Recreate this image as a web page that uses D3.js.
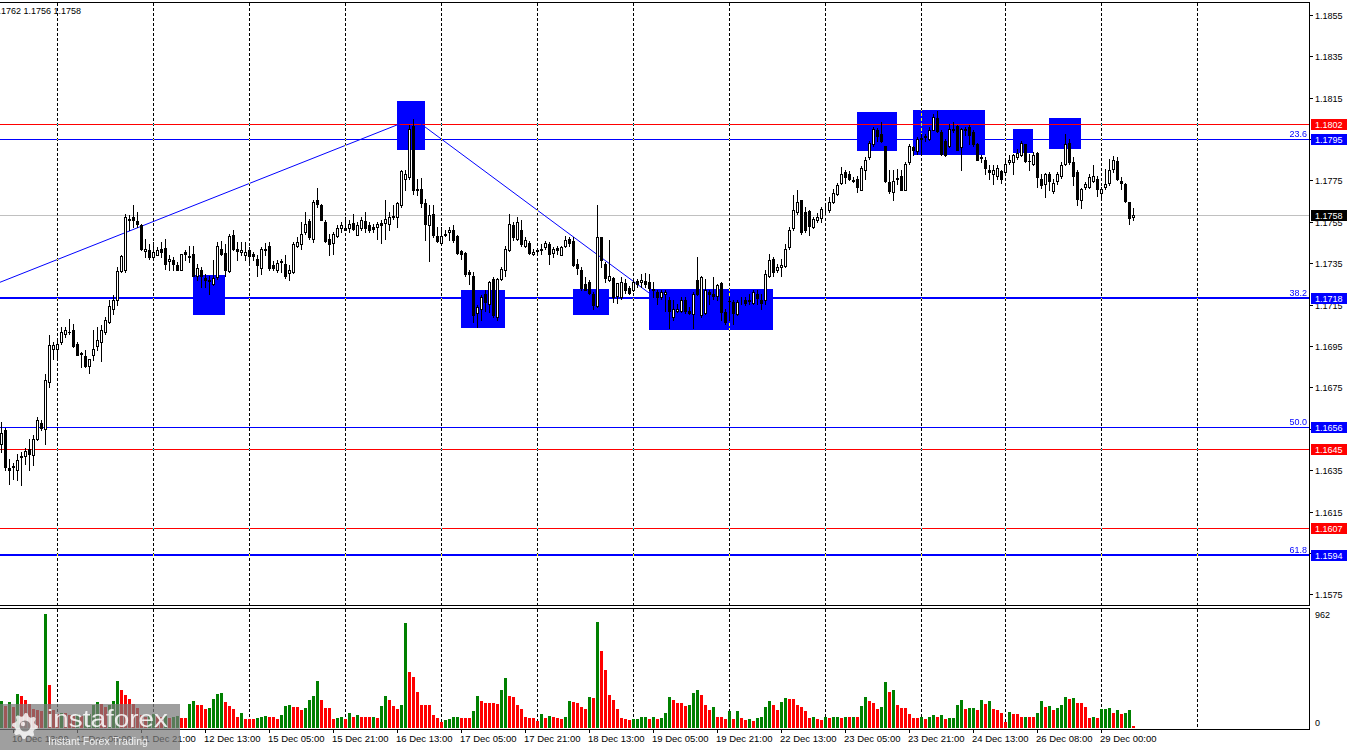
<!DOCTYPE html>
<html><head><meta charset="utf-8">
<script src="https://cdn.jsdelivr.net/npm/d3@7"></script>
<style>
html,body{margin:0;padding:0;background:#fff;overflow:hidden}
svg{display:block}
text{font-family:"Liberation Sans",Arial,sans-serif}
</style></head><body>
<svg id="chart" width="1350" height="750"></svg>
<script>
// ---------- DATA ----------
const header = "EURUSD,H1  1.1758 1.1762 1.1756 1.1758";
// hourly bars: [open, high, low, close]
const bars = [
[1.16477,1.16582,1.16437,1.16531],[1.16542,1.16555,1.16349,1.16365],[1.16361,1.16405,1.16284,1.16352],[1.16365,1.16384,1.16308,1.16371],
[1.16349,1.16429,1.16300,1.16400],[1.16413,1.16437,1.16276,1.16418],[1.16418,1.16458,1.16381,1.16440],[1.16453,1.16502,1.16349,1.16426],
[1.16421,1.16518,1.16373,1.16502],[1.16502,1.16606,1.16493,1.16590],[1.16579,1.16590,1.16542,1.16555],[1.16550,1.16815,1.16477,1.16787],
[1.16775,1.17001,1.16751,1.16952],[1.16936,1.16968,1.16888,1.16952],[1.16936,1.16976,1.16888,1.16960],[1.16968,1.17041,1.16960,1.17017],
[1.17009,1.17041,1.16993,1.17028],[1.17018,1.17081,1.17009,1.17015],[1.17028,1.17057,1.16944,1.16949],[1.16960,1.16968,1.16904,1.16907],
[1.16915,1.16920,1.16848,1.16912],[1.16899,1.16928,1.16848,1.16851],[1.16851,1.16888,1.16819,1.16888],[1.16904,1.17025,1.16880,1.16936],
[1.16948,1.17041,1.16928,1.16980],[1.16968,1.17049,1.16877,1.17028],[1.17017,1.17089,1.17009,1.17076],[1.17065,1.17170,1.17060,1.17141],
[1.17129,1.17194,1.17105,1.17170],[1.17170,1.17331,1.17146,1.17310],[1.17310,1.17387,1.17307,1.17382],[1.17315,1.17588,1.17307,1.17572],
[1.17561,1.17580,1.17508,1.17558],[1.17572,1.17629,1.17524,1.17556],[1.17551,1.17596,1.17524,1.17540],[1.17532,1.17540,1.17411,1.17416],
[1.17408,1.17468,1.17379,1.17419],[1.17411,1.17443,1.17371,1.17379],[1.17379,1.17451,1.17375,1.17403],[1.17390,1.17427,1.17387,1.17411],
[1.17419,1.17451,1.17379,1.17406],[1.17422,1.17468,1.17323,1.17344],[1.17360,1.17387,1.17318,1.17371],[1.17363,1.17379,1.17318,1.17347],
[1.17339,1.17355,1.17315,1.17319],[1.17319,1.17395,1.17315,1.17392],[1.17402,1.17411,1.17363,1.17392],[1.17384,1.17435,1.17355,1.17381],
[1.17395,1.17435,1.17286,1.17290],[1.17286,1.17347,1.17266,1.17327],[1.17318,1.17331,1.17234,1.17290],[1.17279,1.17298,1.17234,1.17266],
[1.17268,1.17290,1.17199,1.17265],[1.17250,1.17363,1.17242,1.17279],[1.17282,1.17451,1.17274,1.17431],[1.17419,1.17459,1.17387,1.17395],
[1.17398,1.17443,1.17290,1.17315],[1.17311,1.17492,1.17307,1.17479],[1.17487,1.17511,1.17414,1.17419],[1.17419,1.17451,1.17363,1.17408],
[1.17403,1.17451,1.17387,1.17414],[1.17390,1.17451,1.17363,1.17403],[1.17411,1.17427,1.17347,1.17382],[1.17392,1.17403,1.17363,1.17382],
[1.17371,1.17387,1.17286,1.17339],[1.17327,1.17427,1.17295,1.17419],[1.17411,1.17447,1.17387,1.17419],[1.17431,1.17451,1.17315,1.17327],
[1.17339,1.17360,1.17318,1.17327],[1.17315,1.17363,1.17307,1.17350],[1.17360,1.17371,1.17307,1.17353],[1.17347,1.17387,1.17279,1.17290],
[1.17302,1.17339,1.17266,1.17318],[1.17307,1.17451,1.17302,1.17443],[1.17435,1.17476,1.17427,1.17451],[1.17440,1.17548,1.17419,1.17492],
[1.17500,1.17596,1.17492,1.17540],[1.17553,1.17564,1.17468,1.17476],[1.17468,1.17653,1.17451,1.17645],[1.17653,1.17712,1.17620,1.17637],
[1.17629,1.17637,1.17556,1.17559],[1.17548,1.17556,1.17451,1.17456],[1.17468,1.17492,1.17387,1.17440],[1.17447,1.17500,1.17392,1.17492],
[1.17479,1.17532,1.17476,1.17521],[1.17521,1.17548,1.17500,1.17532],[1.17521,1.17572,1.17508,1.17511],[1.17521,1.17556,1.17500,1.17540],
[1.17543,1.17588,1.17508,1.17516],[1.17488,1.17548,1.17484,1.17532],[1.17521,1.17572,1.17511,1.17559],[1.17553,1.17596,1.17500,1.17521],
[1.17532,1.17548,1.17500,1.17511],[1.17524,1.17540,1.17500,1.17517],[1.17524,1.17548,1.17468,1.17540],[1.17543,1.17556,1.17447,1.17532],
[1.17543,1.17653,1.17468,1.17564],[1.17540,1.17596,1.17511,1.17572],[1.17574,1.17629,1.17564,1.17577],[1.17572,1.17645,1.17524,1.17640],
[1.17629,1.17798,1.17620,1.17793],[1.17757,1.17801,1.17701,1.17781],[1.17765,1.18015,1.17757,1.17999],[1.18010,1.18047,1.17682,1.17704],
[1.17706,1.17757,1.17677,1.17701],[1.17709,1.17762,1.17620,1.17640],[1.17640,1.17661,1.17460,1.17540],[1.17532,1.17629,1.17360,1.17580],
[1.17588,1.17629,1.17476,1.17484],[1.17480,1.17524,1.17451,1.17456],[1.17447,1.17524,1.17440,1.17480],[1.17490,1.17508,1.17480,1.17487],
[1.17500,1.17524,1.17460,1.17511],[1.17508,1.17532,1.17451,1.17464],[1.17479,1.17484,1.17395,1.17398],[1.17408,1.17414,1.17371,1.17395],
[1.17398,1.17403,1.17290,1.17298],[1.17307,1.17315,1.17250,1.17295],[1.17290,1.17307,1.17065,1.17097],[1.17109,1.17146,1.17041,1.17137],
[1.17129,1.17194,1.17073,1.17186],[1.17199,1.17221,1.17121,1.17162],[1.17154,1.17263,1.17113,1.17258],[1.17274,1.17282,1.17089,1.17097],
[1.17092,1.17279,1.17073,1.17273],[1.17274,1.17331,1.17266,1.17323],[1.17315,1.17431,1.17290,1.17419],[1.17411,1.17588,1.17408,1.17540],
[1.17532,1.17548,1.17460,1.17476],[1.17468,1.17572,1.17460,1.17548],[1.17511,1.17556,1.17435,1.17443],[1.17435,1.17476,1.17427,1.17460],
[1.17447,1.17456,1.17392,1.17398],[1.17392,1.17419,1.17387,1.17403],[1.17410,1.17419,1.17387,1.17413],[1.17416,1.17440,1.17395,1.17413],
[1.17427,1.17456,1.17419,1.17447],[1.17440,1.17451,1.17347,1.17392],[1.17398,1.17427,1.17379,1.17419],[1.17424,1.17435,1.17395,1.17411],
[1.17389,1.17435,1.17387,1.17427],[1.17435,1.17479,1.17427,1.17460],[1.17468,1.17476,1.17435,1.17447],[1.17456,1.17476,1.17334,1.17339],
[1.17347,1.17371,1.17298,1.17327],[1.17318,1.17331,1.17218,1.17231],[1.17250,1.17282,1.17218,1.17221],[1.17258,1.17266,1.17199,1.17205],
[1.17199,1.17210,1.17129,1.17146],[1.17141,1.17629,1.17137,1.17476],[1.17476,1.17476,1.17331,1.17363],[1.17347,1.17355,1.17258,1.17279],
[1.17270,1.17460,1.17263,1.17290],[1.17279,1.17282,1.17162,1.17186],[1.17189,1.17253,1.17157,1.17253],[1.17186,1.17282,1.17178,1.17258],
[1.17253,1.17274,1.17205,1.17218],[1.17231,1.17237,1.17202,1.17205],[1.17218,1.17270,1.17215,1.17258],[1.17263,1.17274,1.17234,1.17247],
[1.17258,1.17298,1.17234,1.17270],[1.17263,1.17302,1.17234,1.17247],[1.17258,1.17298,1.17218,1.17231],[1.17226,1.17258,1.17186,1.17218],
[1.17210,1.17218,1.17154,1.17186],[1.17186,1.17218,1.17178,1.17210],[1.17199,1.17218,1.17121,1.17210],[1.17170,1.17186,1.17038,1.17121],
[1.17089,1.17173,1.17073,1.17129],[1.17121,1.17154,1.17113,1.17129],[1.17121,1.17186,1.17113,1.17173],[1.17170,1.17186,1.17109,1.17118],
[1.17118,1.17137,1.17102,1.17110],[1.17102,1.17210,1.17038,1.17199],[1.17266,1.17379,1.17194,1.17202],[1.17097,1.17290,1.17089,1.17282],
[1.17109,1.17274,1.17105,1.17221],[1.17210,1.17218,1.17154,1.17199],[1.17199,1.17282,1.17178,1.17189],[1.17189,1.17250,1.17170,1.17242],
[1.17253,1.17258,1.17073,1.17113],[1.17113,1.17129,1.17057,1.17065],[1.17168,1.17186,1.17073,1.17165],[1.17162,1.17170,1.17057,1.17109],
[1.17102,1.17170,1.17097,1.17162],[1.17165,1.17186,1.17154,1.17168],[1.17170,1.17186,1.17150,1.17157],[1.17168,1.17199,1.17154,1.17171],
[1.17157,1.17218,1.17154,1.17210],[1.17199,1.17218,1.17154,1.17183],[1.17170,1.17202,1.17129,1.17158],[1.17170,1.17315,1.17154,1.17298],
[1.17290,1.17392,1.17282,1.17363],[1.17371,1.17379,1.17290,1.17307],[1.17318,1.17347,1.17307,1.17331],[1.17331,1.17371,1.17290,1.17339],
[1.17334,1.17440,1.17331,1.17419],[1.17427,1.17524,1.17419,1.17511],[1.17521,1.17677,1.17511,1.17608],[1.17596,1.17701,1.17585,1.17645],
[1.17653,1.17656,1.17492,1.17500],[1.17596,1.17620,1.17500,1.17508],[1.17601,1.17608,1.17488,1.17527],[1.17524,1.17572,1.17521,1.17564],
[1.17556,1.17592,1.17548,1.17572],[1.17569,1.17620,1.17548,1.17612],[1.17600,1.17637,1.17588,1.17603],[1.17608,1.17669,1.17596,1.17645],
[1.17645,1.17709,1.17640,1.17688],[1.17682,1.17736,1.17677,1.17728],[1.17736,1.17814,1.17730,1.17781],[1.17790,1.17801,1.17736,1.17765],
[1.17781,1.17794,1.17753,1.17757],[1.17753,1.17765,1.17741,1.17749],[1.17757,1.17769,1.17693,1.17720],[1.17704,1.17817,1.17701,1.17810],
[1.17801,1.17862,1.17757,1.17849],[1.17862,1.17939,1.17854,1.17930],[1.17926,1.18007,1.17918,1.17996],[1.17991,1.18004,1.17942,1.17962],
[1.17975,1.18031,1.17934,1.17942],[1.17914,1.17918,1.17741,1.17746],[1.17741,1.17801,1.17688,1.17698],[1.17693,1.17798,1.17653,1.17749],
[1.17756,1.17806,1.17733,1.17759],[1.17769,1.17798,1.17701,1.17704],[1.17704,1.17838,1.17701,1.17830],[1.17838,1.17926,1.17827,1.17914],
[1.17910,1.17918,1.17870,1.17897],[1.17891,1.17959,1.17878,1.17951],[1.17949,1.17975,1.17878,1.17952],[1.17960,1.17975,1.17942,1.17963],
[1.17951,1.18007,1.17946,1.17994],[1.17994,1.18071,1.17991,1.18058],[1.18052,1.18087,1.17983,1.17988],[1.17983,1.17991,1.17870,1.17878],
[1.17942,1.17951,1.17865,1.17870],[1.17914,1.18023,1.17910,1.17999],[1.17991,1.18031,1.17983,1.17999],[1.18010,1.18015,1.17894,1.17897],
[1.17910,1.18004,1.17798,1.17999],[1.17994,1.18007,1.17967,1.17997],[1.18007,1.18015,1.17926,1.17967],[1.17983,1.17994,1.17918,1.17926],
[1.17923,1.17930,1.17846,1.17849],[1.17864,1.17870,1.17838,1.17860],[1.17849,1.17862,1.17781,1.17810],[1.17801,1.17822,1.17757,1.17790],
[1.17781,1.17822,1.17733,1.17801],[1.17769,1.17822,1.17757,1.17810],[1.17794,1.17801,1.17736,1.17757],[1.17790,1.17843,1.17785,1.17830],
[1.17838,1.17870,1.17830,1.17849],[1.17838,1.17878,1.17781,1.17870],[1.17862,1.17902,1.17854,1.17881],[1.17870,1.17942,1.17865,1.17930],
[1.17923,1.17926,1.17838,1.17843],[1.17844,1.17878,1.17801,1.17841],[1.17830,1.17886,1.17822,1.17870],[1.17881,1.17886,1.17717,1.17765],
[1.17757,1.17781,1.17714,1.17725],[1.17730,1.17785,1.17669,1.17781],[1.17781,1.17790,1.17701,1.17746],[1.17698,1.17757,1.17688,1.17736],
[1.17746,1.17790,1.17730,1.17781],[1.17769,1.17838,1.17762,1.17822],[1.17830,1.17975,1.17822,1.17923],[1.17930,1.17951,1.17830,1.17838],
[1.17838,1.17862,1.17725,1.17773],[1.17790,1.17798,1.17629,1.17661],[1.17653,1.17714,1.17617,1.17709],[1.17717,1.17741,1.17709,1.17730],
[1.17717,1.17781,1.17714,1.17765],[1.17746,1.17822,1.17741,1.17773],[1.17757,1.17773,1.17672,1.17709],[1.17688,1.17717,1.17669,1.17709],
[1.17717,1.17806,1.17709,1.17730],[1.17736,1.17854,1.17725,1.17798],[1.17806,1.17865,1.17790,1.17846],[1.17843,1.17862,1.17753,1.17757],
[1.17749,1.17765,1.17709,1.17736],[1.17730,1.17736,1.17645,1.17649],[1.17645,1.17645,1.17540,1.17569],[1.17575,1.17617,1.17556,1.17580]
];
// tick volumes per bar
const volumes = [
225,182,216,175,290,267,233,199,163,150,140,962,360,150,120,130,125,110,100,115,105,110,120,197,216,200,175,190,225,394,
318,281,242,199,171,110,95,100,120,105,90,100,85,95,105,83,83,199,225,197,191,159,168,242,284,292,216,182,163,97,
123,75,72,72,83,92,100,89,89,75,106,182,191,174,174,151,165,233,267,394,236,165,165,72,83,97,72,123,89,106,
89,89,89,97,86,182,267,233,182,157,191,886,470,428,307,197,191,191,106,81,47,66,75,97,97,83,83,81,140,267,
225,208,208,208,202,318,420,267,264,191,163,89,81,81,55,114,86,103,95,83,72,92,225,216,208,174,157,259,256,897,
651,493,275,236,157,86,78,64,72,72,89,89,72,97,72,81,123,259,236,208,208,182,191,292,318,275,191,149,174,97,
89,72,140,72,140,81,64,72,55,81,97,174,225,191,149,216,250,242,242,191,174,140,81,89,72,64,89,86,89,97,
81,97,92,97,89,182,259,225,208,157,174,389,301,318,191,165,165,114,81,81,97,72,97,106,89,106,72,81,81,191,
233,157,165,165,149,233,199,225,157,149,123,47,131,114,114,89,97,89,89,123,225,174,182,149,165,191,259,242,250,208,
208,174,81,89,81,157,157,165,123,149,114,123,149,13
];
const volumeMax = 962;
const timeLabels = [[3,"10 Dec 13:00"],[19,"11 Dec 05:00"],[35,"11 Dec 21:00"],[51,"12 Dec 13:00"],[67,"15 Dec 05:00"],
  [83,"15 Dec 21:00"],[99,"16 Dec 13:00"],[115,"17 Dec 05:00"],[131,"17 Dec 21:00"],[147,"18 Dec 13:00"],
  [163,"19 Dec 05:00"],[179,"19 Dec 21:00"],[195,"22 Dec 13:00"],[211,"23 Dec 05:00"],[227,"23 Dec 21:00"],
  [243,"24 Dec 13:00"],[259,"26 Dec 08:00"],[275,"29 Dec 00:00"]];
const dayStarts = [14,38,62,86,110,134,158,182,206,230,251,275,299];
const priceTicks = [1.1855,1.1835,1.1815,1.1795,1.1775,1.1755,1.1735,1.1715,1.1695,1.1675,1.1655,1.1635,1.1615,1.1595,1.1575];
const fiboNames = ["23.6","38.2","50.0","61.8"];
const fiboPrices = [1.1795,1.1718,1.1656,1.1594];
const redLevels = [1.1802,1.1645,1.1607];
const lastPrice = 1.1758;
// zones: [startBar, endBar, topPrice, bottomPrice]
const zones = [[98.8,105.8,1.18133,1.17896],[47.8,55.8,1.17293,1.17099],[114.8,125.8,1.17220,1.17037],
  [142.8,151.8,1.17225,1.17099],[161.8,192.8,1.17225,1.17027],[213.8,223.8,1.18080,1.17892],
  [227.8,245.8,1.18090,1.17872],[252.8,257.8,1.17998,1.17882],[261.8,269.8,1.18051,1.17901]];
// trend lines: [[bar, price],[bar, price]]
const trendLines = [[[-0.425,1.17257],[103,1.18049]],[[103,1.18049],[162,1.17204]]];

// ---------- CHART ----------
const svg = d3.select("#chart");
const W = 1350, H = 750;
const plotRight = 1309;
const mainTop = 2, mainBottom = 605, volTop = 608, volBottom = 729;
const x = d3.scaleLinear().domain([0, 327]).range([1.5, 1.5 + 4*327]);
const y = d3.scaleLinear().domain([1.1575, 1.1855]).range([594.3, 14.7]);
const yv = d3.scaleLinear().domain([0, volumeMax]).range([728, 614]);
const crisp = v => Math.round(v) + 0.5;
const FONT = 9;

svg.append("rect").attr("width", W).attr("height", H).attr("fill", "#fff");

const defs = svg.append("defs");
defs.append("clipPath").attr("id","mainClip").append("rect")
  .attr("x",0).attr("y",mainTop+1).attr("width",plotRight).attr("height",mainBottom-mainTop-1);
defs.append("clipPath").attr("id","volClip").append("rect")
  .attr("x",0).attr("y",volTop+1).attr("width",plotRight).attr("height",volBottom-volTop-1);

const main = svg.append("g").attr("clip-path","url(#mainClip)");
const vol = svg.append("g").attr("clip-path","url(#volClip)");
// opaque backgrounds inside the isolated groups so the grid blend has a backdrop
main.append("rect").attr("x",0).attr("y",0).attr("width",plotRight).attr("height",mainBottom).attr("fill","#fff");
vol.append("rect").attr("x",0).attr("y",volTop).attr("width",plotRight).attr("height",volBottom-volTop).attr("fill","#fff");

// zones
main.append("g").selectAll("rect").data(zones).join("rect")
  .attr("x", d => Math.round(x(d[0])))
  .attr("width", d => Math.round(x(d[1])) - Math.round(x(d[0])))
  .attr("y", d => Math.round(y(d[2])))
  .attr("height", d => Math.round(y(d[3])) - Math.round(y(d[2])))
  .attr("fill", "#0000ff");

// horizontal levels
main.append("line").attr("x1",0).attr("x2",plotRight)
  .attr("y1",crisp(y(lastPrice))).attr("y2",crisp(y(lastPrice)))
  .attr("stroke","#c0c0c0").attr("stroke-width",1);
main.append("g").selectAll("line").data(redLevels).join("line")
  .attr("x1",0).attr("x2",plotRight)
  .attr("y1",d=>crisp(y(d))).attr("y2",d=>crisp(y(d)))
  .attr("stroke","#ff0000").attr("stroke-width",1);
const thickFibo = new Set(["38.2","61.8"]);
main.append("g").selectAll("line").data(fiboPrices).join("line")
  .attr("x1",0).attr("x2",plotRight)
  .attr("y1",(d,i)=> thickFibo.has(fiboNames[i]) ? Math.round(y(d)) : crisp(y(d)))
  .attr("y2",(d,i)=> thickFibo.has(fiboNames[i]) ? Math.round(y(d)) : crisp(y(d)))
  .attr("stroke","#0000ff").attr("stroke-width",(d,i)=> thickFibo.has(fiboNames[i]) ? 2 : 1);
main.append("g").selectAll("text").data(fiboPrices).join("text")
  .attr("x",1307).attr("y",d=>Math.round(y(d))-2)
  .attr("text-anchor","end").attr("font-size",FONT).attr("fill","#0000ff")
  .text((d,i)=>fiboNames[i]);

// trend lines
const lineGen = d3.line().x(d=>x(d[0])).y(d=>y(d[1]));
main.append("g").selectAll("path").data(trendLines).join("path")
  .attr("d", lineGen).attr("fill","none").attr("stroke","#0000ff").attr("stroke-width",1);

// grid (xor-like: black on white, yellow on blue)
[[main, mainTop+1, mainBottom], [vol, volTop+1, volBottom]].forEach(([g, y1, y2]) => {
  g.append("g").style("mix-blend-mode","difference").attr("shape-rendering","crispEdges")
    .selectAll("line").data(dayStarts).join("line")
    .attr("x1", d => x(d)).attr("x2", d => x(d)).attr("y1", y1).attr("y2", y2)
    .attr("stroke","#fff").attr("stroke-width",1).attr("stroke-dasharray","3,2");
});

// candles
const cg = main.append("g").attr("shape-rendering","crispEdges");
const cand = cg.selectAll("g").data(bars).join("g");
cand.append("line")
  .attr("x1",(d,i)=>x(i)).attr("x2",(d,i)=>x(i))
  .attr("y1",d=>Math.round(y(d[1]))).attr("y2",d=>Math.round(y(d[2]))+1)
  .attr("stroke","#000").attr("stroke-width",1);
cand.append("rect")
  .each(function(d,i){
    const up = d[3] >= d[0];
    const t = Math.round(y(Math.max(d[0],d[3])));
    const b = Math.round(y(Math.min(d[0],d[3])));
    const r = d3.select(this);
    if (up) {
      r.attr("x", x(i)-1).attr("width",2).attr("y", t+0.5).attr("height", Math.max(0,b-t))
       .attr("fill","#fff").attr("stroke","#000").attr("stroke-width",1);
    } else {
      r.attr("x", x(i)-1.5).attr("width",3).attr("y", t).attr("height", Math.max(1,b-t+1))
       .attr("fill","#000");
    }
  });

// volumes
let prevColor = "#008000";
const volColors = volumes.map((v,i)=>{
  if (i>0) { if (v > volumes[i-1]) prevColor = "#008000"; else if (v < volumes[i-1]) prevColor = "#ff0000"; }
  return prevColor;
});
vol.append("g").attr("shape-rendering","crispEdges").selectAll("rect").data(volumes).join("rect")
  .attr("x",(d,i)=>x(i)-1.5).attr("width",3)
  .attr("y",d=>Math.round(yv(d))).attr("height",d=>728-Math.round(yv(d)))
  .attr("fill",(d,i)=>volColors[i]);

// frames
const frame = svg.append("g").attr("fill","none").attr("stroke","#000").attr("stroke-width",1).attr("shape-rendering","crispEdges");
frame.append("path").attr("d",`M-1,${mainTop+0.5}H${plotRight+0.5}V${mainBottom+0.5}H-1`);
frame.append("path").attr("d",`M-1,${volTop+0.5}H${plotRight+0.5}V${volBottom+0.5}H-1`);

// right price axis
const ax = svg.append("g");
ax.selectAll("line").data(priceTicks).join("line")
  .attr("x1",plotRight+1).attr("x2",plotRight+4)
  .attr("y1",d=>crisp(y(d))).attr("y2",d=>crisp(y(d)))
  .attr("stroke","#000").attr("shape-rendering","crispEdges");
ax.selectAll("text").data(priceTicks).join("text")
  .attr("x",1315).attr("y",d=>Math.round(y(d))+3.5)
  .attr("font-size",FONT).attr("fill","#000").text(d=>d.toFixed(4));

// price boxes
const boxes = [
  ...redLevels.map(p=>({p, c:"#ff0000"})),
  ...fiboPrices.map(p=>({p, c:"#0000ff"})),
  {p:lastPrice, c:"#000000"}
];
const bx = svg.append("g").selectAll("g").data(boxes).join("g");
bx.append("rect").attr("x",1311).attr("width",36)
  .attr("y",d=>Math.round(y(d.p))-5).attr("height",11).attr("fill",d=>d.c);
bx.append("text").attr("x",1315).attr("y",d=>Math.round(y(d.p))+4)
  .attr("font-size",FONT).attr("fill","#fff").text(d=>d.p.toFixed(4));

// volume axis
const vTicks = [volumeMax, 0];
svg.append("g").selectAll("text").data(vTicks).join("text")
  .attr("x",1315).attr("y",d=> d===0 ? 725.5 : Math.round(yv(d))+3.5)
  .attr("font-size",FONT).attr("fill","#000").text(d=>d);

// time axis
const tx = svg.append("g");
tx.selectAll("line").data(timeLabels).join("line")
  .attr("x1",d=>x(d[0])).attr("x2",d=>x(d[0])).attr("y1",volBottom+1).attr("y2",volBottom+4)
  .attr("stroke","#000").attr("shape-rendering","crispEdges");
tx.selectAll("text").data(timeLabels).join("text")
  .attr("x",d=>x(d[0])-1.5).attr("y",742)
  .attr("font-size",9.5).attr("fill","#000").text(d=>d[1]);

// header
svg.append("text").attr("x",81).attr("y",14).attr("text-anchor","end")
  .attr("font-size",FONT).attr("fill","#000").text(header);

// watermark
const wm = svg.append("g");
wm.append("rect").attr("x",0).attr("y",704).attr("width",180).attr("height",46)
  .attr("fill","#7a7a7a").attr("opacity",0.72);
const gear = wm.append("g").attr("transform","translate(25,726)").attr("opacity",0.8);
const teeth = 8, rOut = 13, rIn = 10;
const pts = [];
for (let k=0;k<teeth*4;k++){
  const a = (k/ (teeth*4)) * 2*Math.PI;
  const r = (Math.floor(k/2)%2===0) ? rOut : rIn;
  pts.push([r*Math.cos(a), r*Math.sin(a)]);
}
gear.append("path").attr("d", d3.line()(pts)+"Z").attr("fill","#fff");
gear.append("circle").attr("r",5.5).attr("fill","#8a8a8a");
gear.append("circle").attr("cx",-2).attr("cy",-2).attr("r",2.2).attr("fill","#fff");
wm.append("text").attr("x",47).attr("y",727).attr("font-family","Lato, 'Open Sans', sans-serif")
  .attr("font-size",23).attr("fill","#fff").attr("opacity",0.85)
  .attr("textLength",121).attr("lengthAdjust","spacingAndGlyphs").text("instaforex");
wm.append("text").attr("x",48).attr("y",745).attr("font-family","Lato, 'Open Sans', sans-serif")
  .attr("font-size",11).attr("fill","#fff").attr("opacity",0.85)
  .attr("textLength",100).attr("lengthAdjust","spacingAndGlyphs").text("Instant Forex Trading");
</script>
</body></html>
